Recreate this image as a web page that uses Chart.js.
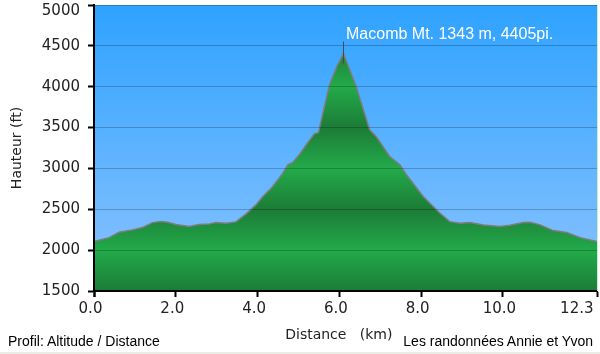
<!DOCTYPE html>
<html lang="fr">
<head>
<meta charset="utf-8">
<title>Profil: Altitude / Distance</title>
<script src="https://cdn.jsdelivr.net/npm/chart.js@4.4.1/dist/chart.umd.min.js"></script>
<style>
  html, body { margin: 0; padding: 0; background: #fff; }
  #wrap { position: relative; width: 600px; height: 354px; overflow: hidden; }
  #profileChart { position: absolute; left: 0; top: 0; }
  .caption { position: absolute; top: 333px; font: 14px/16px "Liberation Sans", Arial, sans-serif; color: #000; white-space: nowrap; }
  #captionLeft { left: 8px; }
  #captionRight { right: 7px; }
  #footerStrip { position: absolute; left: 0; bottom: 0; width: 600px; height: 2px; background: #ecece6; }
</style>
</head>
<body>
<div id="wrap">
  <canvas id="profileChart" width="600" height="354"></canvas>
  <div class="caption" id="captionLeft">Profil: Altitude / Distance</div>
  <div class="caption" id="captionRight">Les randonnées Annie et Yvon</div>
  <div id="footerStrip"></div>
</div>
<script>
'use strict';

// distance along the trail (km)
let distances = [0, 0.37, 0.61, 0.94, 1.18, 1.43, 1.63, 1.80, 2.0, 2.33, 2.57, 2.82, 2.98, 3.23, 3.47,
  3.72, 3.96, 4.13, 4.37, 4.62, 4.74, 4.86, 5.02, 5.23, 5.39, 5.49, 5.56, 5.76, 5.94, 6.1,
  6.41, 6.74, 6.90, 7.23, 7.48, 7.64, 8.05, 8.46, 8.70, 8.95, 9.19, 9.52, 9.93, 10.17, 10.50,
  10.66, 10.91, 11.23, 11.56, 11.89, 12.3];

// elevation (ft)
let elevations = [2104, 2153, 2219, 2248, 2276, 2337, 2349, 2342, 2313, 2288, 2313, 2321, 2337, 2330, 2346,
  2444, 2554, 2656, 2778, 2942, 3044, 3072, 3167, 3317, 3424, 3440, 3596, 4025, 4249, 4405,
  4004, 3473, 3391, 3146, 3044, 2922, 2656, 2452, 2349, 2330, 2337, 2309, 2288, 2305, 2337,
  2342, 2309, 2239, 2215, 2153, 2104];

let xTickValues = [0, 2, 4, 6, 8, 10, 12.3];
let yMin = 1500;
let yMax = 5000;
let yStep = 500;

// summit label
let peakName = 'Macomb Mt.';
let peakKm = 6.1;
let peakMeters = 1343;
let peakFeet = 4405;

let axisFont = 'DejaVu Sans';
let greenLight = 'rgb(35, 170, 74)';
let greenDark = 'rgb(28, 124, 54)';

let points = [];
for (let i = 0; i < distances.length; i++) {
  points.push({ x: distances[i], y: elevations[i] });
}

// banded green under the profile: light on the thousands, dark on the x500
function greenFill(context) {
  let chart = context.chart;
  let area = chart.chartArea;
  if (!area) {
    return greenLight;
  }
  let yScale = chart.scales.y;
  let g = chart.ctx.createLinearGradient(0, area.top, 0, area.bottom);
  for (let v = yMin; v <= yMax; v += yStep) {
    let stop = (yScale.getPixelForValue(v) - area.top) / (area.bottom - area.top);
    stop = Math.min(1, Math.max(0, stop));
    g.addColorStop(stop, v % 1000 === 0 ? greenLight : greenDark);
  }
  return g;
}

// blue sky behind the plot
let skyPlugin = {
  id: 'sky',
  beforeDraw: function (chart) {
    let area = chart.chartArea;
    let ctx = chart.ctx;
    let g = ctx.createLinearGradient(0, area.top, 0, area.bottom);
    g.addColorStop(0, 'rgb(46, 162, 255)');
    g.addColorStop(1, 'rgb(140, 195, 255)');
    ctx.save();
    ctx.fillStyle = g;
    ctx.fillRect(area.left, area.top, area.right - area.left, area.bottom - area.top);
    ctx.restore();
  },
  afterDraw: function (chart) {
    let area = chart.chartArea;
    let ctx = chart.ctx;
    ctx.save();
    ctx.strokeStyle = '#c9efc9';
    ctx.lineWidth = 1;
    ctx.beginPath();
    ctx.moveTo(area.right + 0.5, area.top);
    ctx.lineTo(area.right + 0.5, area.bottom);
    ctx.stroke();
    ctx.restore();
  }
};

// summit marker + text
let peakPlugin = {
  id: 'peak',
  afterDraw: function (chart) {
    let ctx = chart.ctx;
    let x = Math.round(chart.scales.x.getPixelForValue(peakKm)) + 0.5;
    let y = chart.scales.y.getPixelForValue(peakFeet);
    ctx.save();
    ctx.strokeStyle = '#4a4a4a';
    ctx.lineWidth = 1;
    ctx.beginPath();
    ctx.moveTo(x, y - 12);
    ctx.lineTo(x, y + 10);
    ctx.stroke();
    ctx.fillStyle = '#ffffff';
    ctx.font = '16px "Liberation Sans", Arial, sans-serif';
    ctx.textAlign = 'left';
    ctx.textBaseline = 'alphabetic';
    ctx.fillText(peakName + ' ' + peakMeters + ' m, ' + peakFeet + 'pi.', x + 2.5, y - 15);
    ctx.restore();
  }
};

let chartConfig = {
  type: 'line',
  data: {
    datasets: [{
      label: 'Altitude',
      data: points,
      fill: 'start',
      backgroundColor: greenFill,
      borderColor: '#7d7d7d',
      borderWidth: 1.5,
      pointRadius: 0,
      tension: 0
    }]
  },
  options: {
    responsive: false,
    animation: false,
    layout: {
      padding: { top: 5, right: 3, left: 0, bottom: 0 }
    },
    plugins: {
      legend: { display: false },
      tooltip: { enabled: false }
    },
    scales: {
      x: {
        type: 'linear',
        min: 0,
        max: 12.3,
        afterBuildTicks: function (scale) {
          // first blank tick soaks up the left alignment of 'inner'
          let ticks = [{ value: xTickValues[0] }];
          for (let i = 0; i < xTickValues.length; i++) {
            ticks.push({ value: xTickValues[i] });
          }
          scale.ticks = ticks;
        },
        afterFit: function (scale) {
          scale.height = 63;
          scale.paddingLeft = 0;
          scale.paddingRight = 0;
        },
        ticks: {
          autoSkip: false,
          maxRotation: 0,
          align: 'inner',
          labelOffset: -3.5,
          padding: 3,
          color: '#222',
          font: { family: axisFont, size: 15 },
          callback: function (value, index) {
            return index === 0 ? '' : Number(value).toFixed(1);
          }
        },
        grid: {
          drawOnChartArea: false,
          tickLength: 6,
          tickWidth: 2,
          tickColor: '#000',
          z: 1
        },
        border: { color: '#000', width: 2, z: 2 },
        title: {
          display: true,
          text: 'Distance   (km)   ',
          color: '#222',
          font: { family: axisFont, size: 14 },
          padding: { top: 0, bottom: 10 }
        }
      },
      y: {
        min: yMin,
        max: yMax,
        afterFit: function (scale) {
          scale.width = 94;
          scale.paddingTop = 0;
          scale.paddingBottom = 0;
        },
        ticks: {
          stepSize: yStep,
          padding: 8,
          color: '#222',
          font: function (ctx) {
            // top label sits a bit below its tick, as in the original
            let top = ctx.tick && ctx.tick.value === yMax;
            return { family: axisFont, size: 15, lineHeight: top ? 0.8 : 1.2 };
          },
          callback: function (value) {
            return value === yMax ? ['', String(value)] : String(value);
          }
        },
        grid: {
          color: 'rgba(0, 0, 0, 0.22)',
          lineWidth: 1,
          tickLength: 6,
          tickWidth: 2,
          tickColor: '#000',
          z: 1
        },
        border: { color: '#000', width: 2, z: 2 },
        title: {
          display: true,
          text: 'Hauteur (ft)',
          color: '#222',
          font: { family: axisFont, size: 14 },
          padding: { top: 9, bottom: 0 }
        }
      }
    }
  },
  plugins: [skyPlugin, peakPlugin]
};

let canvasChart = document.getElementById('profileChart').getContext('2d');
const profileChart = new Chart(canvasChart, chartConfig);
</script>
</body>
</html>
